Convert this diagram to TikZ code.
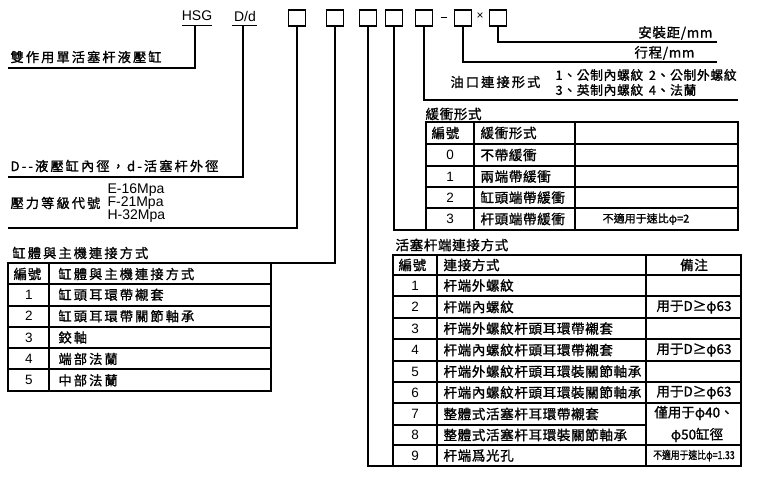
\documentclass[tikz,border=0pt]{standalone}
\usepackage{fontspec}
\setmainfont{Liberation Sans}
\newfontfamily\cjk[LetterSpace=16,FakeBold=1.2]{Noto Sans CJK TC}
\newfontfamily\cjkt[LetterSpace=5,FakeBold=1.2]{Noto Sans CJK TC}
\newfontfamily\cjkn[FakeBold=1.2]{Noto Sans CJK TC}
\begin{document}
\begin{tikzpicture}[x=1pt,y=-1pt,line width=1.1pt,
  lbl/.style={anchor=west,inner sep=0pt,font=\fontsize{13.2}{14}\cjk},
  tl/.style={anchor=west,inner sep=0pt,font=\fontsize{13.5}{14}\cjkt},
  num/.style={inner sep=0pt,font=\fontsize{13.5}{14}\selectfont},
  lat/.style={inner sep=0pt,font=\fontsize{14}{15}\selectfont},
  bx/.style={draw,minimum width=17pt,minimum height=16pt,inner sep=0pt}]
\useasboundingbox (0,0) rectangle (760,477);
% top code
\node[lat] (hsg) at (197,16) {HSG};
\draw[line width=0.8pt] (182,25) -- (212,25);
\node[lat] (dd) at (245,16) {D/d};
\draw[line width=0.8pt] (232,25) -- (257,25);
\node[bx] (b1) at (297,18) {};
\node[bx] (b2) at (335,18) {};
\node[bx] (b3) at (368,18) {};
\node[bx] (b4) at (394,18) {};
\node[bx] (b5) at (424,18) {};
\node[inner sep=0pt] (dash) at (444,17) {\rule{6pt}{0.8pt}};
\node[bx] (b6) at (463,18) {};
\node[inner sep=0pt,font=\fontsize{12}{12}\selectfont] (x) at (480,16) {×};
\node[bx] (b7) at (498,18) {};
% leaders
\coordinate (e0) at (8,68);
\draw (195,26) -- (195,68) -- (e0);
\node[lbl] (t0) at (10,57) {雙作用單活塞杆液壓缸};
\coordinate (e1) at (8,177);
\draw (243,26) -- (243,177) -- (e1);
\node[lbl] (t1) at (10,166) {D--液壓缸內徑，d-活塞杆外徑};
\coordinate (e2) at (8,228);
\draw (b1.south) -- (297,228) -- (e2);
\node[lbl] (t2) at (10,203) {壓力等級代號};
\node[lat,anchor=west] (p1) at (107,190) {E-16Mpa};
\node[lat,anchor=west] (p2) at (107,203) {F-21Mpa};
\node[lat,anchor=west] (p3) at (107,216) {H-32Mpa};
\draw (b2.south) -- (335,263) -- (271,263);
\node[lbl] (t3) at (12,253) {缸體與主機連接方式};
% table A
\draw (8,263) rectangle (271,391);
\foreach \y in {284,306,327,348,369} \draw (8,\y) -- (271,\y);
\draw (49,263) -- (49,391);
\node[tl] at (13,274) {編號};
\node[lbl] at (58,274) {缸體與主機連接方式};
\foreach \n/\t [count=\i] in {1/缸頭耳環帶襯套,2/缸頭耳環帶關節軸承,3/鉸軸,4/端部法蘭,5/中部法蘭}{
  \node[num] at (29,{284+21.4*\i-10.7}) {\n};
  \node[lbl] at (58,{284+21.4*\i-10.7}) {\t};}
% table B
\coordinate (e3) at (393,466);
\draw (b3.south) -- (368,466) -- (e3);
\node[tl] (t4) at (395,245) {活塞杆端連接方式};
\draw (393,255) rectangle (741,466);
\foreach \y in {275,296,318,339,361,382,403,445} \draw (393,\y) -- (741,\y);
\draw (393,425) -- (646,425);
\draw (437,255) -- (437,466);
\draw (646,255) -- (646,466);
\node[tl] at (398,265) {編號};
\node[tl] at (443,265) {連接方式};
\node[inner sep=0pt,font=\fontsize{13.5}{14}\cjkt] at (694,265) {備注};
\foreach \n/\t/\yy in {1/杆端外螺紋/285.5,2/杆端內螺紋/307,3/杆端外螺紋杆頭耳環帶襯套/328.5,4/杆端內螺紋杆頭耳環帶襯套/350,5/杆端外螺紋杆頭耳環裝關節軸承/371.5,6/杆端內螺紋杆頭耳環裝關節軸承/392.5,7/整體式活塞杆耳環帶襯套/414,8/整體式活塞杆耳環裝關節軸承/435,9/杆端爲光孔/455.5}{
  \node[num] at (415,\yy) {\n};
  \node[tl] at (443,\yy) {\t};}
\foreach \yy in {307,350,392.5} \node[inner sep=0pt,font=\fontsize{13.5}{14}\cjkn] at (694,\yy) {用于D≥φ63};
\node[inner sep=0pt,font=\fontsize{13.5}{14}\cjkn] at (694,413) {僅用于φ40、};
\node[inner sep=0pt,font=\fontsize{13.5}{14}\cjkn] at (697,435) {φ50缸徑};
\node[inner sep=0pt,xscale=0.8,font=\fontsize{11}{12}\cjkn] at (694,455.5) {不適用于速比φ=1.33};
% table C
\draw (b4.south) -- (394,230) -- (738,230);
\node[tl] (t5) at (425,114) {緩衝形式};
\draw (426,122) rectangle (738,230);
\foreach \y in {144,166,187,208} \draw (426,\y) -- (738,\y);
\draw (474,122) -- (474,230);
\draw (575,122) -- (575,230);
\node[tl] at (431,133) {編號};
\node[tl] at (480,133) {緩衝形式};
\foreach \n/\t/\yy in {0/不帶緩衝/155,1/兩端帶緩衝/176.5,2/缸頭端帶緩衝/197.5,3/杆頭端帶緩衝/219}{
  \node[num] at (450,\yy) {\n};
  \node[tl] at (480,\yy) {\t};}
\node[inner sep=0pt,font=\fontsize{11}{12}\cjkn] at (646,219) {不適用于速比φ=2};
% oil port
\draw (b5.south) -- (424,100) -- (738,100);
\node[lbl] (t6) at (450,82) {油口連接形式};
\node[anchor=west,inner sep=0pt,font=\fontsize{12.8}{14}\cjkt] (t7) at (555,75) {1、公制內螺紋 \,2、公制外螺紋};
\node[anchor=west,inner sep=0pt,font=\fontsize{12.8}{14}\cjkt] (t8) at (555,90) {3、英制內螺紋 \,4、法蘭};
\draw (b6.south) -- (463,62) -- (717,62);
\node[anchor=east,inner sep=0pt,font=\fontsize{13.5}{14}\cjkt] (t9) at (695,53) {行程/mm};
\draw (b7.south) -- (498,42) -- (717,42);
\node[anchor=east,inner sep=0pt,font=\fontsize{13.5}{14}\cjkt] (t10) at (713,33) {安裝距/mm};
\end{tikzpicture}
\end{document}
